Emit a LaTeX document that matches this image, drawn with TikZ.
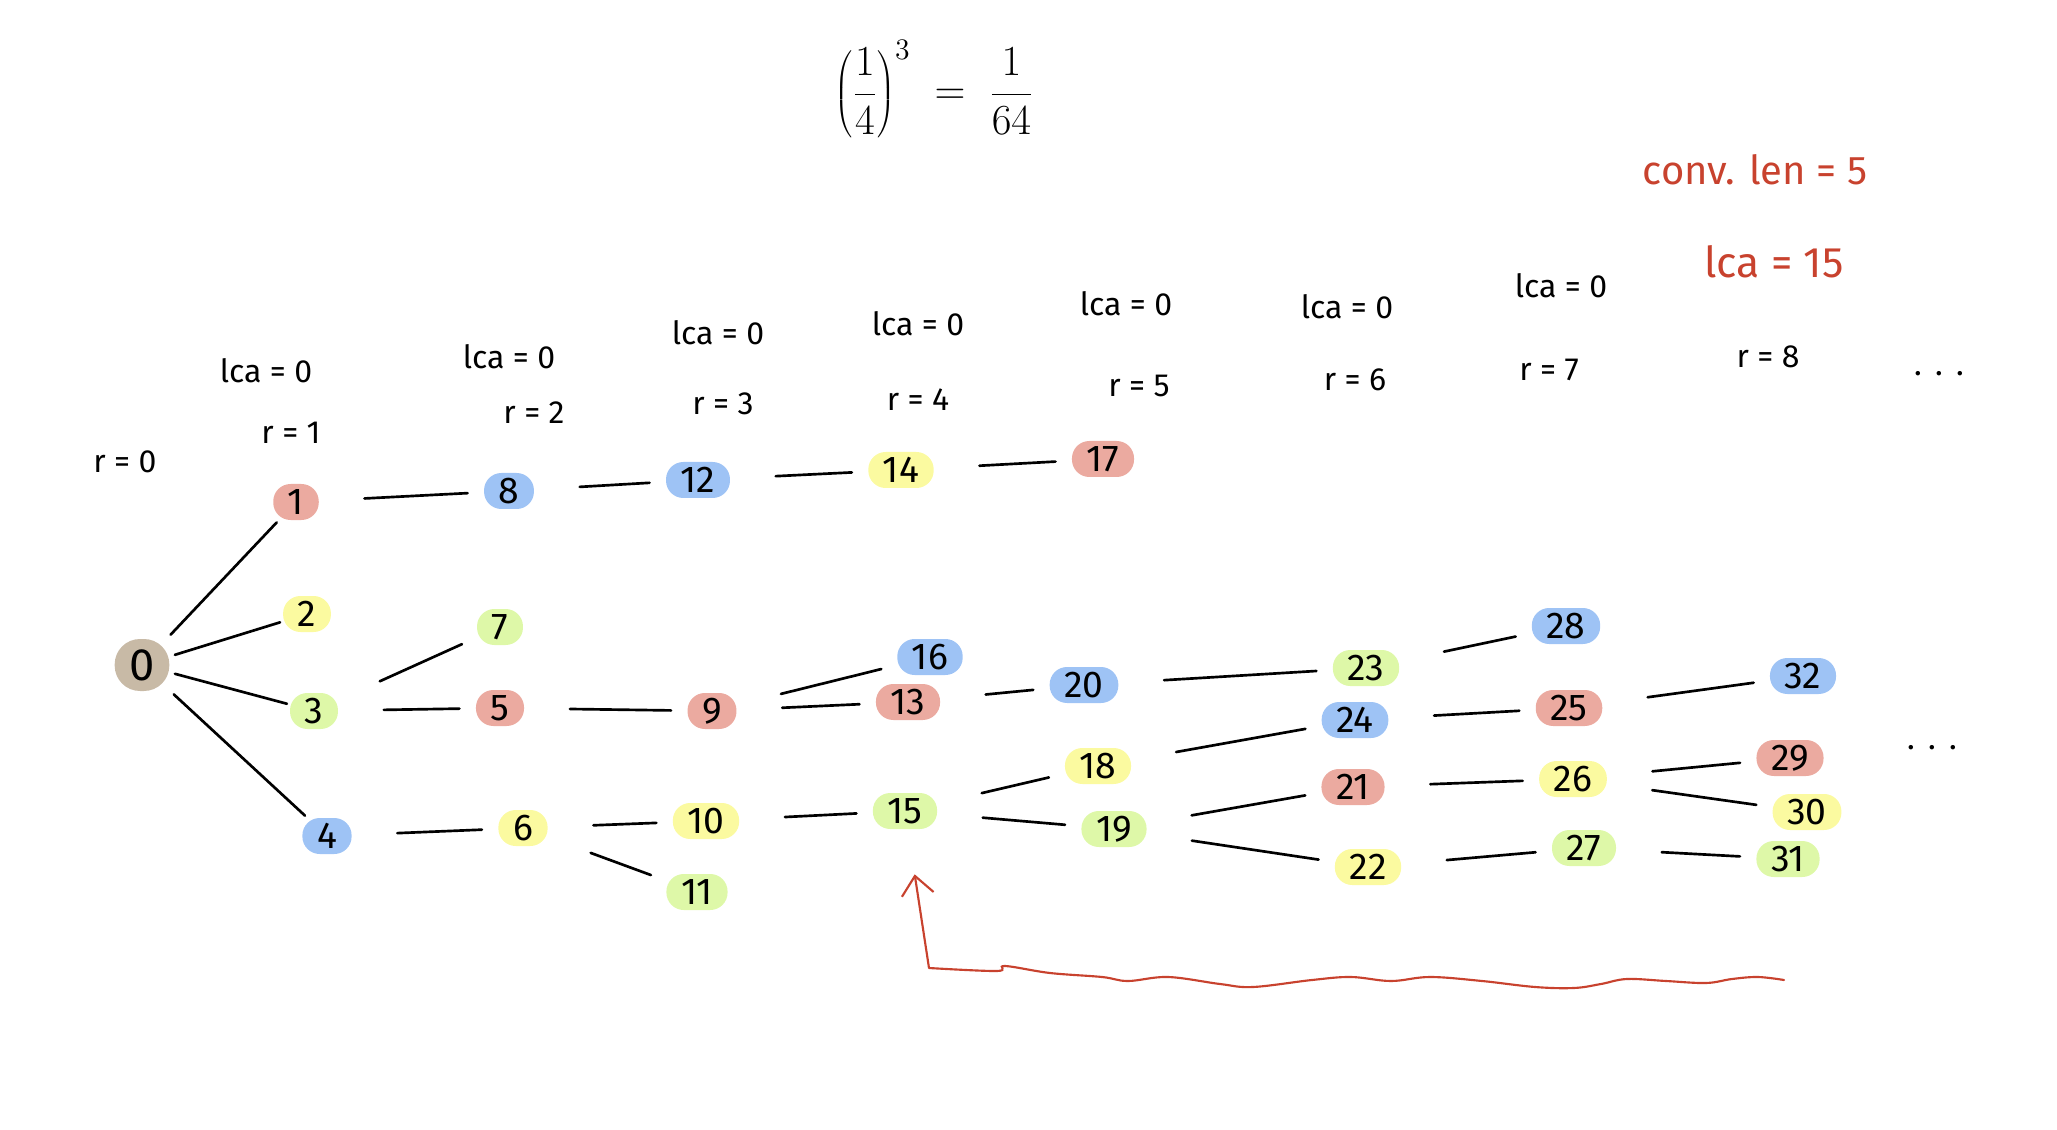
\documentclass[tikz,border=0pt]{standalone}
\usepackage{fontspec}
\setmainfont{Fira Sans}
\usetikzlibrary{arrows.meta}

\definecolor{rblob}{RGB}{235,170,160}
\definecolor{bblob}{RGB}{158,195,245}
\definecolor{yblob}{RGB}{251,250,160}
\definecolor{gblob}{RGB}{222,248,168}
\definecolor{tblob}{RGB}{200,186,166}
\definecolor{redink}{RGB}{200,66,46}

\tikzset{every picture/.style={line width=0.75pt}}
\tikzset{
  blob/.style={rounded corners=13pt, inner xsep=11pt, inner ysep=0pt, minimum height=27pt, font=\fontsize{28}{28}\selectfont},
  link/.style={line width=2pt, line cap=round, shorten <=34pt, shorten >=12pt},
  fan/.style={line width=2pt, line cap=round, shorten <=4pt, shorten >=2pt},
  hdr/.style={inner sep=0.75pt, font=\fontsize{24}{28}\selectfont},
}

\begin{document}
\begin{tikzpicture}[x=0.75pt,y=0.75pt,yscale=-1,xscale=1]
\useasboundingbox (0,0) rectangle (2057,1130);

%Formula
\draw (934,89) node [inner sep=0.75pt] (prob) {\scalebox{1.55}{\fontsize{22}{26}\selectfont$\displaystyle\left(\frac{1}{4}\right)^{3}\; = \;\frac{1}{64}$}};
%Red notes
\draw (1755,170) node [hdr, text=redink, font=\fontsize{30}{34}\selectfont] (convlen) {conv. len = 5};
\draw (1774,262) node [hdr, text=redink, font=\fontsize{32}{36}\selectfont] (lca8) {lca = 15};

%Column headers
\draw (125,462) node [hdr] (r0) {r = 0};
\draw (266,371) node [hdr] (lca1) {lca = 0};
\draw (291,433) node [hdr] (r1) {r = 1};
\draw (509,357) node [hdr] (lca2) {lca = 0};
\draw (534,413) node [hdr] (r2) {r = 2};
\draw (718,333) node [hdr] (lca3) {lca = 0};
\draw (723,404) node [hdr] (r3) {r = 3};
\draw (918,324) node [hdr] (lca4) {lca = 0};
\draw (918,400) node [hdr] (r4) {r = 4};
\draw (1126,304) node [hdr] (lca5) {lca = 0};
\draw (1139,386) node [hdr] (r5) {r = 5};
\draw (1347,307) node [hdr] (lca6) {lca = 0};
\draw (1355,380) node [hdr] (r6) {r = 6};
\draw (1561,286) node [hdr] (lca7) {lca = 0};
\draw (1549,370) node [hdr] (r7) {r = 7};
\draw (1768,357) node [hdr] (r8) {r = 8};
\draw (1939,374) node [hdr] (dotsa) {.\hspace{10pt}.\hspace{10pt}.};
\draw (1932,748) node [hdr] (dotsb) {.\hspace{10pt}.\hspace{10pt}.};

%Nodes
\draw (142,665) node [blob, fill=tblob, minimum width=39pt, minimum height=39pt, rounded corners=19pt, font=\fontsize{34}{34}\selectfont] (n0) {0};
\draw (296,502) node [blob, fill=rblob] (n1) {1};
\draw (307,614) node [blob, fill=yblob] (n2) {2};
\draw (314,711) node [blob, fill=gblob] (n3) {3};
\draw (327,836) node [blob, fill=bblob] (n4) {4};
\draw (509,491) node [blob, fill=bblob] (n8) {8};
\draw (698,480) node [blob, fill=bblob] (n12) {12};
\draw (901,470) node [blob, fill=yblob] (n14) {14};
\draw (1103,459) node [blob, fill=rblob] (n17) {17};
\draw (500,627) node [blob, fill=gblob] (n7) {7};
\draw (500,708) node [blob, fill=rblob] (n5) {5};
\draw (712,711) node [blob, fill=rblob] (n9) {9};
\draw (523,828) node [blob, fill=yblob] (n6) {6};
\draw (706,821) node [blob, fill=yblob] (n10) {10};
\draw (697,892) node [blob, fill=gblob] (n11) {11};
\draw (930,657) node [blob, fill=bblob] (n16) {16};
\draw (908,702) node [blob, fill=rblob] (n13) {13};
\draw (905,811) node [blob, fill=gblob] (n15) {15};
\draw (1084,685) node [blob, fill=bblob] (n20) {20};
\draw (1098,766) node [blob, fill=yblob] (n18) {18};
\draw (1114,829) node [blob, fill=gblob] (n19) {19};
\draw (1366,668) node [blob, fill=gblob] (n23) {23};
\draw (1355,720) node [blob, fill=bblob] (n24) {24};
\draw (1353,787) node [blob, fill=rblob] (n21) {21};
\draw (1368,867) node [blob, fill=yblob] (n22) {22};
\draw (1566,626) node [blob, fill=bblob] (n28) {28};
\draw (1569,708) node [blob, fill=rblob] (n25) {25};
\draw (1573,779) node [blob, fill=yblob] (n26) {26};
\draw (1584,848) node [blob, fill=gblob] (n27) {27};
\draw (1803,676) node [blob, fill=bblob] (n32) {32};
\draw (1790,758) node [blob, fill=rblob] (n29) {29};
\draw (1807,812) node [blob, fill=yblob] (n30) {30};
\draw (1788,859) node [blob, fill=gblob] (n31) {31};

%Edges
\foreach \a/\b in {n0/n1,n0/n2,n0/n3,n0/n4}
  \draw [fan] (\a) -- (\b);
\foreach \a/\b in {n1/n8,n8/n12,n12/n14,n14/n17,n3/n7,n3/n5,n5/n9,n9/n16,n9/n13,n4/n6,n6/n10,n6/n11,n10/n15,n13/n20,n15/n18,n15/n19,n20/n23,n18/n24,n19/n21,n19/n22,n23/n28,n24/n25,n21/n26,n22/n27,n25/n32,n26/n29,n26/n30,n27/n31}
  \draw [link] (\a) -- (\b);

%Curve Lines: return arrow
\coordinate (turn) at (929,968);
\draw [redink, line width=1.6pt, line cap=round] plot [smooth, tension=0.6] coordinates {(1784,980) (1758,977) (1732,979) (1706,983) (1666,981) (1627,979) (1601,984) (1574,988) (1535,987) (1482,981) (1430,977) (1391,981) (1351,977) (1312,980) (1253,987) (1220,984) (1168,977) (1128,981) (1102,977) (1050,973) (1005,966) (997,971) (929,968)};
\draw [redink, line width=1.6pt, -{Straight Barb[length=14pt,width=24pt]}, shorten >=34pt] (turn) -- (n15);

\end{tikzpicture}
\end{document}
